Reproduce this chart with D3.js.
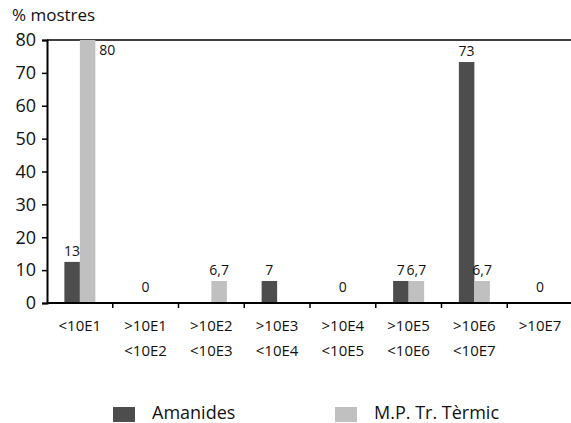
<!DOCTYPE html>
<html><head><meta charset="utf-8">
<script src="https://cdn.jsdelivr.net/npm/d3@7"></script>
<style>body{margin:0;background:#fff}svg{display:block}text{font-family:"Open Sans","Noto Sans",sans-serif;fill:#111}</style>
</head><body>
<svg id="c" width="571" height="423"></svg>
<script>
const categories = [["<10E1"],[">10E1","<10E2"],[">10E2","<10E3"],[">10E3","<10E4"],[">10E4","<10E5"],[">10E5","<10E6"],[">10E6","<10E7"],[">10E7"]];
const seriesNames = ["Amanides","M.P. Tr. Tèrmic"];
const amanides = [12.5,0,0,6.7,0,6.7,73.3,0];
const mpTermic = [80,0,6.7,0,0,6.7,6.7,0];
const amanidesLabels = ["13","","","7","","7","73",""];
const mpLabels = ["80","","6,7","","","6,7","6,7",""];
const zeroLabels = ["","0","","","0","","","0"];
const yTicks = [0,10,20,30,40,50,60,70,80];
const colors = ["#4d4d4d","#c0c0c0"];

const svg = d3.select("#c");
const x = d3.scaleBand().domain(d3.range(categories.length)).range([47,573]).padding(0);
const y = d3.scaleLinear().domain([0,80]).range([303,40]);
const bw = 15.5;

svg.append("line").attr("x1",47).attr("x2",571).attr("y1",y(80)).attr("y2",y(80)).attr("stroke","#000").attr("stroke-width",1.5);

const series = [amanides, mpTermic];
series.forEach((vals,si)=>{
  svg.append("g").selectAll("rect").data(vals).join("rect")
    .attr("x",(d,i)=>x(i)+x.bandwidth()/2 - bw + si*bw)
    .attr("width",bw)
    .attr("y",d=>y(d)).attr("height",d=>y(0)-y(d))
    .attr("fill",colors[si]);
});

amanidesLabels.forEach((t,i)=>{ if(!t) return;
  svg.append("text").attr("x",x(i)+x.bandwidth()/2 - bw/2).attr("y",y(amanides[i])-6)
    .attr("text-anchor","middle").attr("font-size",14).text(t);
});
mpLabels.forEach((t,i)=>{ if(!t) return;
  const top = mpTermic[i] >= 78;
  svg.append("text").attr("x",top ? x(i)+x.bandwidth()/2 + bw + 12 : x(i)+x.bandwidth()/2 + bw/2)
    .attr("y",top ? y(mpTermic[i])+15 : y(mpTermic[i])-6)
    .attr("text-anchor","middle").attr("font-size",14).text(t);
});
zeroLabels.forEach((t,i)=>{ if(!t) return;
  svg.append("text").attr("x",x(i)+x.bandwidth()/2).attr("y",y(0)-11)
    .attr("text-anchor","middle").attr("font-size",14).text(t);
});

const ya = svg.append("g").attr("transform","translate(47,0)")
  .call(d3.axisLeft(y).tickValues(yTicks).tickSize(5).tickPadding(6).tickFormat(d3.format("d")));
ya.select(".domain").attr("stroke","#000").attr("stroke-width",2);
ya.selectAll(".tick line").attr("stroke","#000").attr("stroke-width",1.5);
ya.selectAll(".tick text").attr("font-size",18).attr("font-family","Open Sans").attr("fill","#111");

const xa = svg.append("g").attr("transform",`translate(0,${y(0)})`);
xa.append("line").attr("x1",47).attr("x2",571).attr("stroke","#000").attr("stroke-width",2);
xa.selectAll("line.t").data(d3.range(1,categories.length)).join("line").attr("class","t")
  .attr("x1",i=>x(i)).attr("x2",i=>x(i)).attr("y1",0).attr("y2",5).attr("stroke","#000").attr("stroke-width",1.5);
categories.forEach((lines,i)=>{
  lines.forEach((l,li)=>{
    xa.append("text").attr("x",x(i)+x.bandwidth()/2).attr("y",28+li*25)
      .attr("text-anchor","middle").attr("font-size",15).text(l);
  });
});

svg.append("text").attr("x",12).attr("y",21).attr("font-size",17).text("% mostres");

const legX = [113,335];
seriesNames.forEach((n,i)=>{
  svg.append("rect").attr("x",legX[i]).attr("y",407).attr("width",22).attr("height",15).attr("fill",colors[i]);
  svg.append("text").attr("x",legX[i]+39).attr("y",419).attr("font-size",18).text(n);
});
</script>
</body></html>
